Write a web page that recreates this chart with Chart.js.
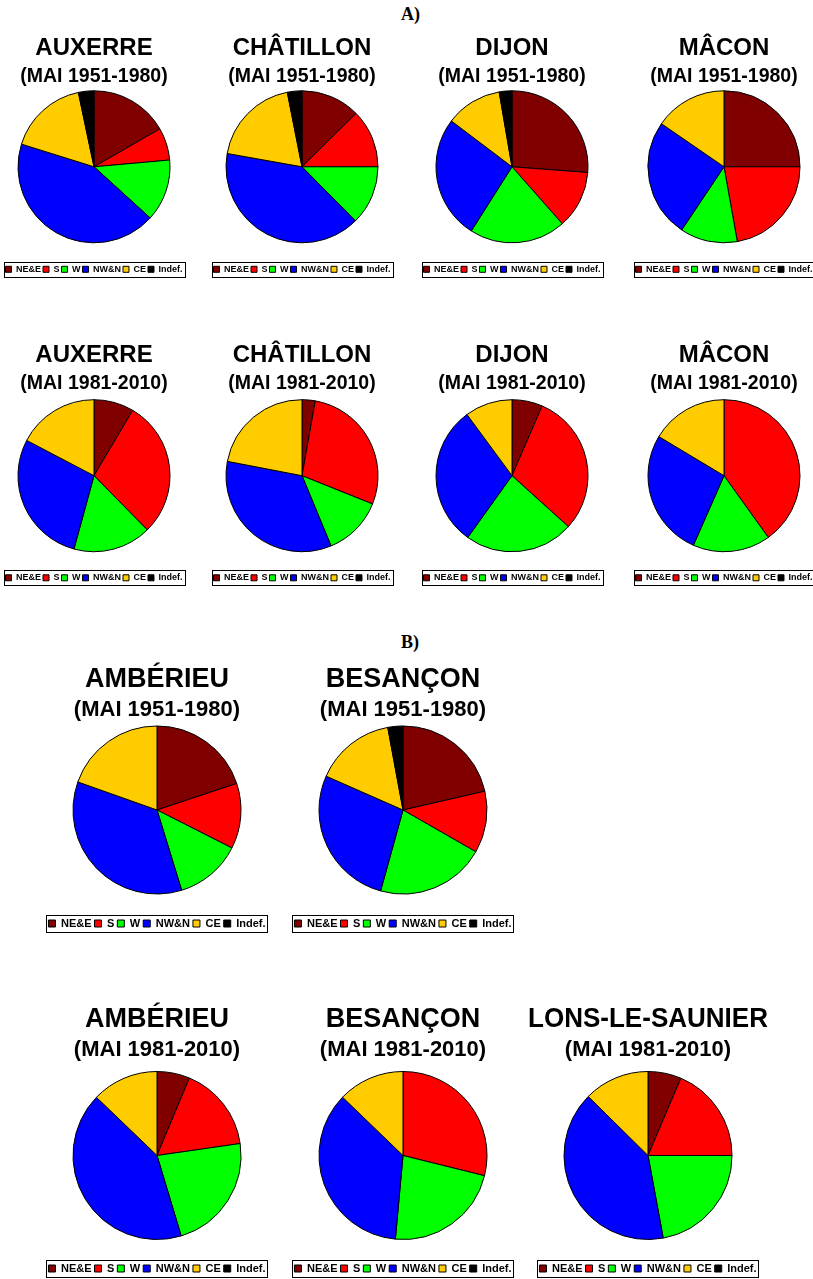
<!DOCTYPE html>
<html>
<head>
<meta charset="utf-8">
<script src="https://cdn.jsdelivr.net/npm/chart.js@4/dist/chart.umd.min.js"></script>
<style>
  html, body { margin: 0; padding: 0; background: #fff; }
  body { width: 813px; height: 1279px; position: relative; overflow: hidden; }
  .hdr { position: absolute; font-family: "Liberation Serif", "Times New Roman", serif; font-weight: bold; font-size: 18px; line-height: 18px; }
  canvas { position: absolute; }
</style>
</head>
<body>
<div class="hdr" id="hA" style="left:401px; top:5px;">A)</div>
<div class="hdr" id="hB" style="left:401px; top:633px;">B)</div>
<script>
// ---- DATA ----
const categories = ["NE&E", "S", "W", "NW&N", "CE", "Indef."];
const colors = ["#800000", "#FF0000", "#00FF00", "#0000FF", "#FFCC00", "#000000"];

const auxerre1951   = [16.7, 6.9, 13.2, 43.1, 16.9, 3.3];
const chatillon1951 = [12.6, 12.4, 12.6, 40.2, 19.1, 3.1];
const dijon1951     = [26.2, 12.3, 20.5, 26.3, 12.0, 2.7];
const macon1951     = [25.0, 22.2, 12.2, 25.2, 15.4, 0];

const auxerre1981   = [8.5, 29.1, 16.6, 28.4, 17.3, 0];
const chatillon1981 = [2.8, 28.3, 12.7, 34.3, 22.0, 0];
const dijon1981     = [6.5, 30.2, 23.2, 30.0, 10.1, 0];
const macon1981     = [0, 40.1, 16.5, 27.0, 16.4, 0];

const amberieu1951  = [19.9, 12.6, 12.8, 35.2, 19.6, 0];
const besancon1951  = [21.4, 11.9, 21.0, 27.3, 15.5, 2.9];

const amberieu1981  = [6.3, 16.4, 22.6, 41.8, 12.8, 0];
const besancon1981  = [0, 28.9, 22.6, 35.8, 12.8, 0];
const lons1981      = [6.4, 18.6, 22.1, 40.3, 12.6, 0];

const period1 = "(MAI 1951-1980)";
const period2 = "(MAI 1981-2010)";

// ---- LAYOUT ----
const groupA = { w: 206, Ft: 24, Fs: 19.5, Fl: 9,  box: 6, p: 2, r: 76, legW: 176, legH: 15 };
const groupB = { w: 240, Ft: 27, Fs: 22,   Fl: 11, box: 7, p: 3, r: 84, legW: 221, legH: 17 };

const rows = [
  { g: groupA, Tc: 48.3,  Sc: 76.4,  Pc: 166.8,  Lc: 269.3 },
  { g: groupA, Tc: 355.8, Sc: 384.0, Pc: 475.7,  Lc: 577.8 },
  { g: groupB, Tc: 679.5, Sc: 710.0, Pc: 810.0,  Lc: 923.5 },
  { g: groupB, Tc: 1020,  Sc: 1050,  Pc: 1155.5, Lc: 1268.5 }
];

const charts = [
  { row: 0, x: 94,  title: "AUXERRE",   sub: period1, values: auxerre1951 },
  { row: 0, x: 302, title: "CHÂTILLON", sub: period1, values: chatillon1951 },
  { row: 0, x: 512, title: "DIJON",     sub: period1, values: dijon1951 },
  { row: 0, x: 724, title: "MÂCON",     sub: period1, values: macon1951 },
  { row: 1, x: 94,  title: "AUXERRE",   sub: period2, values: auxerre1981 },
  { row: 1, x: 302, title: "CHÂTILLON", sub: period2, values: chatillon1981 },
  { row: 1, x: 512, title: "DIJON",     sub: period2, values: dijon1981 },
  { row: 1, x: 724, title: "MÂCON",     sub: period2, values: macon1981 },
  { row: 2, x: 157, title: "AMBÉRIEU",  sub: period1, values: amberieu1951 },
  { row: 2, x: 403, title: "BESANÇON",  sub: period1, values: besancon1951 },
  { row: 3, x: 157, title: "AMBÉRIEU",  sub: period2, values: amberieu1981 },
  { row: 3, x: 403, title: "BESANÇON",  sub: period2, values: besancon1981 },
  { row: 3, x: 648, title: "LONS-LE-SAUNIER", sub: period2, values: lons1981 }
];

const titleFont = '"Liberation Sans", Arial, Helvetica, sans-serif';
const legendFont = '"Liberation Sans", Arial, sans-serif';

const legendBorder = {
  id: 'legendBorder',
  afterDraw(chart, args, opts) {
    const lg = chart.legend;
    if (!lg) return;
    const ctx = chart.ctx;
    const hb = lg.legendHitBoxes || [];
    let w = opts.w;
    if (hb.length) {
      const l = Math.min(...hb.map(h => h.left));
      const r = Math.max(...hb.map(h => h.left + h.width));
      w = Math.max(w, r - l + 4);
    }
    const cx = (lg.left + lg.right) / 2;
    const cy = lg.top + opts.p + opts.Fl / 2;
    ctx.save();
    ctx.strokeStyle = '#000';
    ctx.lineWidth = 1;
    ctx.strokeRect(Math.round(cx - w / 2) + 0.5, Math.round(cy - opts.h / 2) + 0.5, Math.round(w), Math.round(opts.h));
    ctx.restore();
  }
};

charts.forEach(c => {
  const row = rows[c.row];
  const g = row.g;
  const p = g.p;
  const Y0 = Math.floor(row.Tc - 0.6 * g.Ft - 3);
  const t1 = row.Tc - Y0 - 0.6 * g.Ft;
  const s1 = row.Sc - row.Tc - 0.6 * g.Ft - 0.6 * g.Fs;
  const legendTop = row.Lc - p - g.Fl / 2;
  const legendH = g.Fl + p + 10;
  const H = Math.ceil(legendTop + legendH - Y0) + 1;
  const padBottom = Y0 + H - (legendTop + legendH);
  const s2 = 2 * row.Pc - legendTop - row.Sc - 0.6 * g.Fs;

  const cv = document.createElement('canvas');
  cv.width = g.w; cv.height = H;
  cv.style.left = Math.round(c.x - g.w / 2) + 'px';
  cv.style.top = Y0 + 'px';
  cv.style.width = g.w + 'px'; cv.style.height = H + 'px';
  document.body.appendChild(cv);

  new Chart(cv, {
    type: 'pie',
    data: {
      labels: categories,
      datasets: [{
        data: c.values,
        backgroundColor: colors,
        borderColor: '#000',
        borderWidth: 1
      }]
    },
    plugins: [legendBorder],
    options: {
      responsive: false,
      animation: false,
      devicePixelRatio: 1,
      radius: g.r,
      layout: { padding: { top: 0, left: 0, right: 0, bottom: padBottom } },
      plugins: {
        tooltip: { enabled: false },
        title: {
          display: true, text: c.title, color: '#000',
          font: { family: titleFont, size: g.Ft, weight: 'bold', lineHeight: 1.2 },
          padding: { top: t1, bottom: 0 }
        },
        subtitle: {
          display: true, text: c.sub, color: '#000',
          font: { family: titleFont, size: g.Fs, weight: 'bold', lineHeight: 1.2 },
          padding: { top: s1, bottom: s2 }
        },
        legend: {
          display: true, position: 'bottom',
          labels: {
            color: '#000',
            font: { family: legendFont, size: g.Fl, weight: 'bold' },
            boxWidth: g.box, boxHeight: g.box, padding: p
          }
        },
        legendBorder: { w: g.legW, h: g.legH, p: p, Fl: g.Fl }
      }
    }
  });
});
</script>
</body>
</html>
